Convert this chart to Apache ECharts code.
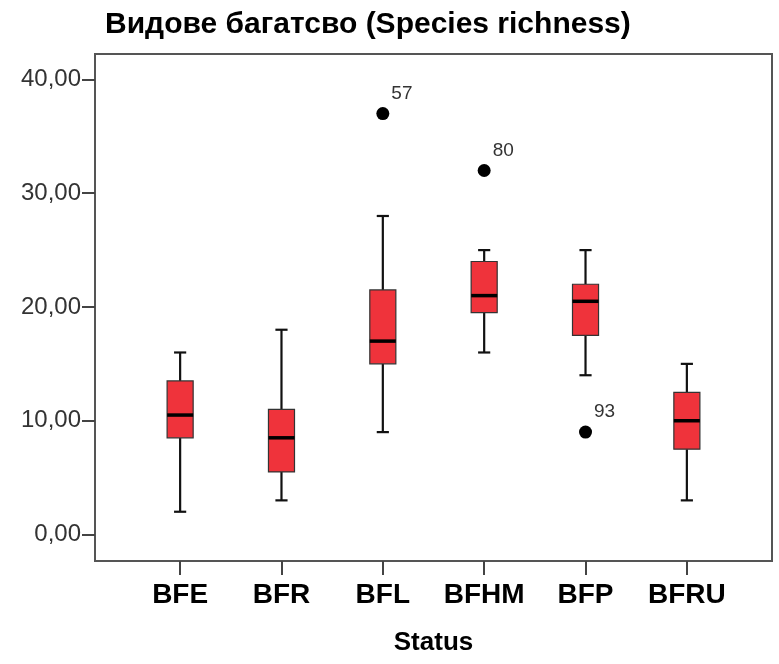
<!DOCTYPE html>
<html>
<head>
<meta charset="utf-8">
<script src="https://cdn.jsdelivr.net/npm/echarts@6/dist/echarts.min.js"></script>
<style>
  html, body { margin: 0; padding: 0; background: #fff; }
  #chart { width: 779px; height: 664px; }
</style>
</head>
<body>
<div id="chart"></div>
<script>
// ---- data ----
var categories = ['BFE', 'BFR', 'BFL', 'BFHM', 'BFP', 'BFRU'];
var whiskerLow  = [2,    3,    9,    16,   14,   3];
var q1          = [8.5,  5.5,  15,   19.5, 17.5, 7.5];
var median      = [10.5, 8.5,  17,   21,   20.5, 10];
var q3          = [13.5, 11,   21.5, 24,   22,   12.5];
var whiskerHigh = [16,   18,   28,   25,   25,   15];
var outlierCategory = ['BFL', 'BFHM', 'BFP'];
var outlierValue    = [37,    32,     9];
var outlierCase     = ['57',  '80',   '93'];
var yTicks = [0, 10, 20, 30, 40];

var boxData = categories.map(function (c, i) {
  return [i, whiskerLow[i], q1[i], median[i], q3[i], whiskerHigh[i]];
});
var outlierData = outlierCategory.map(function (c, i) {
  return { value: [categories.indexOf(c), outlierValue[i]], caseId: outlierCase[i] };
});
var catTicks = categories.map(function (c, i) { return i; });

var chart = echarts.init(document.getElementById('chart'), null, { renderer: 'canvas' });

function renderBox(params, api) {
  var x = api.value(0);
  var pLow = api.coord([x, api.value(1)]);
  var pQ1 = api.coord([x, api.value(2)]);
  var pMed = api.coord([x, api.value(3)]);
  var pQ3 = api.coord([x, api.value(4)]);
  var pHigh = api.coord([x, api.value(5)]);
  var boxW = api.size([0.257, 0])[0];
  var capW = api.size([0.12, 0])[0];
  var cx = pQ1[0];
  var lineStyle = { stroke: '#111', lineWidth: 2.2 };
  return {
    type: 'group',
    children: [
      { type: 'line', shape: { x1: cx, y1: pLow[1], x2: cx, y2: pQ1[1] }, style: lineStyle },
      { type: 'line', shape: { x1: cx, y1: pQ3[1], x2: cx, y2: pHigh[1] }, style: lineStyle },
      { type: 'line', shape: { x1: cx - capW / 2, y1: pLow[1], x2: cx + capW / 2, y2: pLow[1] }, style: lineStyle },
      { type: 'line', shape: { x1: cx - capW / 2, y1: pHigh[1], x2: cx + capW / 2, y2: pHigh[1] }, style: lineStyle },
      { type: 'rect', shape: { x: cx - boxW / 2, y: pQ3[1], width: boxW, height: pQ1[1] - pQ3[1] },
        style: { fill: '#ef333b', stroke: '#333', lineWidth: 1.2 } },
      { type: 'line', shape: { x1: cx - boxW / 2, y1: pMed[1], x2: cx + boxW / 2, y2: pMed[1] },
        style: { stroke: '#000', lineWidth: 3.5 } }
    ]
  };
}

var option = {
  animation: false,
  backgroundColor: '#fff',
  title: {
    text: 'Видове багатсво (Species richness)',
    left: 100,
    top: 5,
    textStyle: { fontFamily: 'Liberation Sans, Arial, sans-serif', fontSize: 30, fontWeight: 'bold', color: '#000' }
  },
  grid: {
    left: 95, right: 7, top: 54, bottom: 103,
    show: true, borderColor: '#555', borderWidth: 2, backgroundColor: '#fff'
  },
  xAxis: {
    type: 'value',
    min: -0.84, max: 5.84,
    name: 'Status',
    nameLocation: 'middle',
    nameGap: 69,
    nameTextStyle: { fontFamily: 'Liberation Sans, Arial, sans-serif', fontSize: 26, fontWeight: 'bold', color: '#000' },
    axisLine: { show: true, onZero: false, lineStyle: { color: '#555', width: 2 } },
    axisTick: { show: true, length: 14, customValues: catTicks, lineStyle: { color: '#444', width: 2 } },
    axisLabel: {
      customValues: catTicks,
      margin: 20,
      fontFamily: 'Liberation Sans, Arial, sans-serif', fontSize: 28, fontWeight: 'bold', color: '#000',
      formatter: function (v) { return categories[Math.round(v)] || ''; }
    },
    splitLine: { show: false }
  },
  yAxis: {
    type: 'value',
    min: -2.33, max: 42.24,
    axisLine: { show: true, onZero: false, lineStyle: { color: '#555', width: 2 } },
    axisTick: { show: true, length: 13, customValues: yTicks, lineStyle: { color: '#444', width: 2 } },
    axisLabel: {
      customValues: yTicks,
      margin: 14,
      fontFamily: 'Liberation Sans, Arial, sans-serif', fontSize: 24, color: '#333',
      formatter: function (v) { return v.toFixed(2).replace('.', ','); }
    },
    splitLine: { show: false }
  },
  series: [
    {
      type: 'custom',
      renderItem: renderBox,
      data: boxData,
      encode: { x: 0, y: [1, 2, 3, 4, 5] },
      z: 3
    },
    {
      type: 'scatter',
      data: outlierData,
      symbol: 'circle',
      symbolSize: 13,
      itemStyle: { color: '#000', opacity: 1 },
      z: 4,
      label: {
        show: true,
        position: 'right',
        distance: 2,
        offset: [0, -20],
        fontFamily: 'Liberation Sans, Arial, sans-serif',
        fontSize: 19,
        color: '#333',
        formatter: function (p) { return p.data.caseId; }
      }
    }
  ]
};
chart.setOption(option);
</script>
</body>
</html>
